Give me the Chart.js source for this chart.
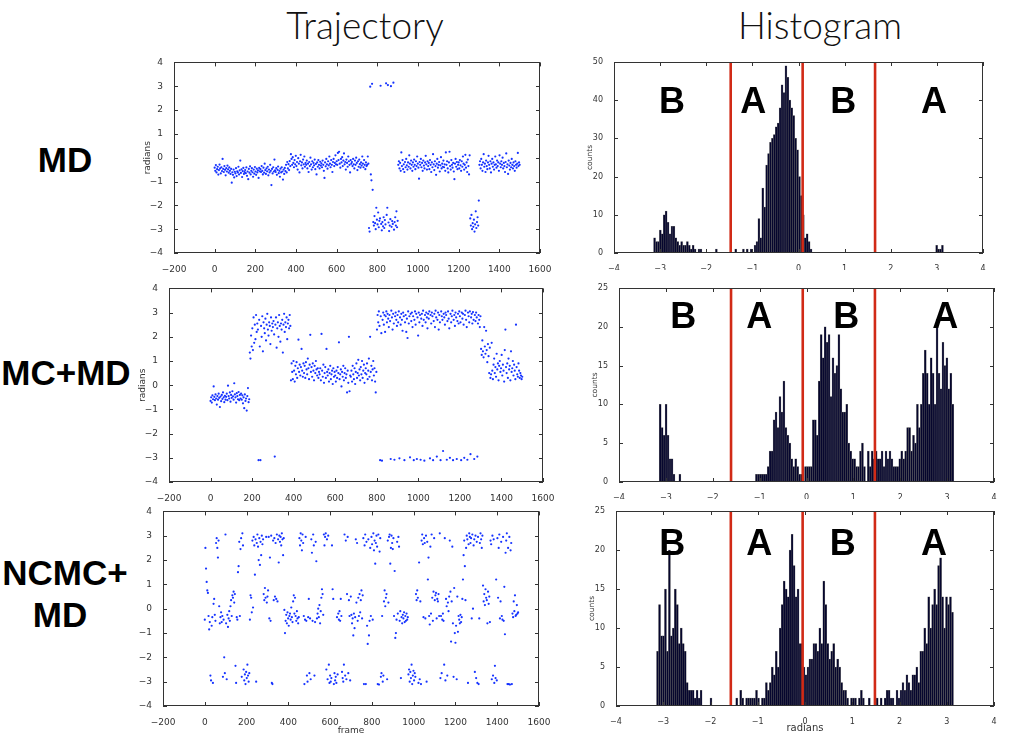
<!DOCTYPE html>
<html>
<head>
<meta charset="utf-8">
<script src="https://cdn.jsdelivr.net/npm/chart.js@4.4.1/dist/chart.umd.min.js"></script>
<style>
    body { margin: 0; width: 1013px; height: 737px; background: #fff; position: relative; overflow: hidden; font-family: "Liberation Sans", Arial, sans-serif; }
    canvas { position: absolute; }
    .head { position: absolute; font-family: Lato, "Open Sans", sans-serif; font-weight: 300; font-size: 37px; line-height: 1; color: #111; white-space: nowrap; transform: translateX(-50%); }
    .row { position: absolute; font-weight: bold; font-size: 35px; line-height: 1; color: #000; white-space: nowrap; transform: translateX(-50%); }
</style>
</head>
<body>
<div class="head" style="left:365px;top:6px">Trajectory</div>
<div class="head" style="left:820px;top:6px">Histogram</div>
<div class="row" style="left:65px;top:142px">MD</div>
<div class="row" style="left:66px;top:355px">MC+MD</div>
<div class="row" style="left:65px;top:555px">NCMC+</div>
<div class="row" style="left:60px;top:597px">MD</div>

<script>
// trajectories: one angle (radians) every frameStep frames, frames 0..1500
const frameStep = 3;

const mdAngles = [
    -0.42,-0.55,-0.31,-0.62,-0.48,-0.38,-0.71,-0.52,-0.29,-0.45,-0.66,-0.4,-0.56,-0.05,-0.47,-0.6,-0.35,-0.51,-0.74,-0.44,-0.58,-0.33,-0.49,-0.63,-0.41,
    -0.55,-0.68,-0.47,-1.05,-0.61,-0.72,-0.5,-0.83,-0.59,-0.66,-0.44,-0.77,-0.57,-0.62,-0.38,-0.7,-0.53,-0.12,-0.64,-0.49,-0.81,-0.56,-0.43,-0.68,-0.6,
    -0.52,-0.65,-0.41,-0.76,-0.58,-0.9,-0.47,-0.63,-0.36,-0.7,-0.55,-0.44,-0.61,-0.8,-0.5,-0.67,-0.39,-0.58,-0.72,-0.46,-0.62,-0.53,-0.85,-0.43,-0.57,
    -0.48,-0.6,-0.35,-0.55,-0.7,-0.42,-0.63,-0.25,-0.52,-0.68,-0.45,-0.57,-0.38,-0.74,-0.5,-0.62,-0.3,-0.55,-1.15,-0.47,-0.66,-0.4,-0.58,-0.08,-0.53,
    -0.6,-0.44,-0.72,-0.51,-0.37,-0.65,-0.55,-0.8,-0.46,-0.62,-0.4,-0.58,-0.92,-0.5,-0.68,-0.43,-0.56,-0.3,-0.62,-0.18,-0.45,-0.27,-0.52,-0.14,-0.35,
    0.15,-0.05,-0.3,0.02,-0.22,-0.4,-0.1,-0.28,0.08,-0.35,-0.18,-0.5,-0.02,-0.25,-0.62,-0.15,0.12,-0.32,-0.2,-0.45,-0.08,-0.28,0.05,-0.38,-0.22,
    -0.3,-0.12,-0.45,-0.25,-0.6,-0.18,-0.35,0.0,-0.28,-0.5,-0.15,-0.4,-0.22,-0.32,-0.08,-0.48,-0.26,-0.7,-0.2,-0.38,-0.1,-0.3,-0.45,-0.17,-0.33,
    -0.24,-0.4,-0.12,-0.3,-0.55,-0.85,-0.2,-0.36,-0.05,-0.28,-0.46,-0.15,-0.32,0.05,-0.25,-0.4,-0.1,-0.3,-0.6,-0.18,-0.05,-0.35,-0.22,0.1,-0.28,
    -0.15,-0.3,0.2,-0.1,0.25,-0.25,-0.42,-0.05,-0.2,0.02,-0.35,-0.12,0.18,-0.28,-0.18,-0.5,-0.08,-0.22,-0.38,0.05,-0.15,-0.3,-0.62,-0.1,-0.25,
    -0.18,-0.35,-0.05,-0.28,-0.45,-0.12,-0.3,0.0,-0.22,-0.52,-0.15,-0.38,-0.08,-0.27,-0.42,-0.2,-0.33,0.05,-0.25,-0.4,-0.1,-0.3,-0.48,-0.2,-0.35,
    -0.3,0.05,-0.25,-2.95,-3.1,2.98,-0.7,-0.95,3.1,-1.35,-2.7,-2.85,-2.45,-2.75,-3.0,-2.1,-2.6,-2.8,-2.3,-2.92,-2.65,-2.55,3.02,-2.78,-3.05,
    -2.7,-2.88,-2.5,-2.95,-2.62,-2.8,3.12,-2.4,-2.1,3.05,-2.72,-3.08,-2.85,-2.58,3.0,-2.9,-2.66,-2.78,3.15,-3.02,-2.7,-2.5,-2.85,-2.25,-2.92,
    -2.65,-0.3,-0.15,-0.45,-0.22,-0.55,0.22,-0.35,-0.1,-0.48,-0.28,-0.6,-0.18,-0.4,-0.05,-0.32,-0.5,-0.2,-0.38,0.1,-0.25,-0.45,-0.12,-0.3,-0.55,
    -0.2,-0.38,-0.08,-0.3,-0.48,-0.15,-0.35,0.05,-0.25,-0.42,-0.88,-0.18,-0.3,-0.05,-0.4,-0.22,-0.55,-0.12,-0.33,-0.45,-0.2,0.08,-0.28,-0.5,-0.15,
    -0.35,-0.22,-0.48,-0.1,-0.3,-0.6,-0.2,-0.4,0.15,-0.28,-0.52,-0.15,-0.35,-0.72,-0.25,-0.05,-0.42,-0.3,-0.18,-0.58,-0.32,0.02,-0.45,-0.25,-0.38,
    -0.12,-0.4,-0.28,-0.55,0.22,-0.3,-0.15,-0.45,-0.62,-0.2,0.25,-0.35,-0.5,-0.1,-0.3,-0.42,-0.22,-0.58,-0.9,-0.25,-0.05,-0.38,-0.18,-0.48,-0.3,
    -0.2,-0.45,-0.1,-0.32,-0.55,-0.15,-0.38,0.05,-0.25,-0.5,-0.3,0.12,-0.42,-0.2,-0.6,-0.08,-0.35,-0.7,0.1,-2.55,-2.85,-2.4,-3.0,-2.75,-2.9,
    -2.6,-3.1,-2.8,-2.25,-2.95,-2.7,-2.5,-2.85,-1.8,-0.3,-0.15,-0.45,-0.05,-0.3,-0.55,-0.2,0.15,-0.38,-0.25,-0.6,-0.12,-0.35,-0.48,-0.2,0.08,
    -0.3,-0.45,-0.15,-0.62,-0.25,-0.05,-0.38,-0.2,-0.5,-0.3,0.05,-0.28,-0.42,-0.12,-0.35,-0.2,-0.55,0.1,-0.25,-0.4,-0.15,-0.3,0.0,-0.45,-0.22,
    -0.35,-0.6,-0.18,0.18,-0.4,-0.28,-0.68,-0.12,-0.33,-0.5,-0.22,-0.4,-0.05,-0.3,-0.45,-0.2,-0.35,-0.55,-0.15,-0.3,-0.42,-0.25,0.2,-0.35,-0.2,
    -0.3
];

const mcmdAngles = [
    -0.65,-0.5,-0.72,-0.42,-0.58,-0.05,-0.48,-0.62,-0.38,-0.55,-0.8,-0.45,-0.6,-0.35,-0.52,-0.9,-0.47,-0.66,-0.4,-0.57,-0.3,-0.5,-0.7,-0.44,-0.6,
    -0.48,-0.35,-0.62,-0.02,-0.45,-0.55,-0.3,-0.68,-0.4,-0.52,-0.25,-0.46,-0.6,0.08,-0.38,-0.5,-0.72,-0.33,-0.45,-0.58,-0.28,-0.62,-0.4,-0.55,-0.35,
    -0.6,-0.42,-0.75,-0.5,-0.95,-0.38,-0.65,-0.55,-1.05,-0.45,-0.12,-0.7,-0.58,1.35,1.1,2.05,1.6,2.35,1.45,2.8,1.75,2.5,1.9,2.9,2.2,
    2.55,2.3,-3.1,2.7,1.6,-3.1,2.45,2.0,2.85,1.4,2.6,2.35,2.15,2.75,1.85,2.5,2.95,2.3,2.05,2.6,2.45,1.7,2.8,2.25,2.55,
    2.4,2.65,2.1,-2.95,2.5,2.8,1.55,2.35,2.6,2.0,2.9,2.45,1.8,2.55,2.3,2.7,1.35,2.5,2.95,2.2,2.6,2.4,2.8,1.9,2.55,
    2.7,2.35,2.9,2.45,0.2,0.9,0.55,0.25,1.0,0.6,0.15,0.8,0.45,0.95,0.3,0.7,1.88,0.55,0.85,0.4,0.75,1.5,0.6,0.35,0.9,
    0.5,0.8,0.3,0.95,0.65,0.45,1.1,0.7,0.25,0.85,2.08,0.55,0.75,0.35,0.9,0.6,0.2,0.8,0.5,1.0,0.65,0.4,0.7,0.3,0.55,
    0.45,0.7,0.2,2.12,0.6,0.35,0.85,0.1,0.5,0.75,0.3,1.5,0.55,0.4,0.65,0.15,0.5,0.8,0.25,0.45,0.6,0.05,0.7,0.35,0.55,
    0.4,0.15,0.6,0.3,0.75,0.5,1.77,0.25,0.45,0.65,-0.05,0.55,0.35,0.8,0.2,0.5,0.7,0.3,0.45,-0.3,0.6,0.1,2.0,-0.25,0.4,
    0.35,0.6,0.15,0.8,0.45,0.25,0.7,0.05,0.55,0.9,0.3,0.5,1.05,0.4,0.65,0.2,0.75,0.45,1.0,0.3,0.6,0.85,0.1,0.5,0.7,
    0.45,0.9,0.25,0.6,1.1,0.35,2.0,0.55,0.8,0.2,0.65,1.0,0.4,0.7,0.15,-0.3,0.55,2.3,2.9,2.6,3.05,2.45,-3.1,2.85,2.15,
    -3.12,2.7,3.0,2.5,2.9,2.2,2.85,3.05,2.6,2.95,2.75,2.4,2.9,2.65,-3.05,3.08,2.8,2.3,2.95,2.55,-3.08,2.85,3.0,2.7,2.45,
    2.9,2.6,3.05,-3.02,2.8,2.5,2.95,2.7,2.25,3.0,2.85,-3.1,2.6,2.9,2.2,2.75,1.95,3.05,2.55,2.85,-2.98,2.95,2.65,3.0,2.4,
    2.85,-3.1,2.7,3.05,2.5,2.95,-3.05,2.8,2.05,3.0,2.6,2.9,-3.08,2.75,2.95,2.45,3.08,2.7,-3.12,2.9,2.6,3.0,2.8,2.35,2.95,
    2.75,3.05,-3.02,2.9,2.55,3.0,2.85,-3.1,2.65,2.95,2.4,3.08,2.8,-2.95,2.7,3.0,2.3,2.9,2.6,-3.1,3.05,2.85,2.7,-2.72,2.95,
    2.8,2.5,3.0,2.9,-3.08,2.65,3.05,2.75,2.35,-3.0,2.95,2.6,2.85,3.08,-3.1,2.7,2.9,2.45,3.0,2.8,-3.05,2.65,2.95,2.55,3.05,
    2.85,2.6,-3.1,3.0,2.75,2.95,2.5,-3.0,2.9,3.08,2.7,2.4,-3.08,3.0,2.85,2.6,3.05,-2.85,2.8,2.95,2.55,3.02,2.7,-3.05,2.9,
    2.65,3.0,2.8,-2.95,2.55,2.9,2.7,2.4,2.85,1.5,1.25,1.85,1.4,1.15,2.4,1.6,1.3,2.25,1.45,0.95,1.7,1.2,0.5,1.55,0.3,
    0.45,1.75,0.6,0.25,0.85,1.1,0.5,0.75,0.35,1.3,0.65,0.9,0.2,0.8,1.0,0.55,0.7,1.25,0.4,0.85,0.6,0.15,1.45,2.3,0.75,
    0.5,0.9,0.3,1.1,0.65,0.8,0.2,1.4,0.55,0.7,1.0,0.4,0.85,0.6,0.25,2.5,0.75,0.45,0.35,0.9,0.6,0.3,0.5,0.4,0.25,
    0.35
];

const ncmcAngles = [
    -0.45,2.5,1.65,1.1,0.75,0.65,-0.3,-0.85,-0.55,-2.75,-2.95,-0.7,-0.35,-3.05,0.2,0.4,-0.25,-0.5,2.7,2.9,2.5,2.1,2.8,0.1,-0.6,
    -0.35,-0.15,-0.55,-0.3,-2.8,-0.45,-2.0,-2.65,3.05,-0.6,-2.9,-0.25,-0.75,-0.4,-0.1,-0.5,0.1,0.35,-0.3,0.55,0.45,0.7,0.25,0.6,-2.35,
    -3.05,-0.35,-0.45,1.5,1.75,2.75,-0.3,2.45,2.9,-2.8,3.1,2.6,-2.5,-2.95,-2.7,-3.1,-2.6,-2.85,-2.3,-2.75,-3.0,-2.65,-0.45,0.55,0.45,
    -0.15,2.8,0.05,2.95,2.6,1.4,2.85,-3.0,2.7,3.05,2.55,2.0,2.9,1.8,2.75,2.2,3.0,2.65,2.85,0.6,0.35,0.85,0.45,2.95,0.25,
    0.5,0.75,2.95,-0.4,2.1,-0.5,3.0,-3.05,-3.1,2.8,0.35,2.9,0.5,2.7,0.4,3.05,0.3,2.85,1.9,3.0,2.75,2.95,2.6,3.1,2.85,
    2.2,2.9,-0.05,-1.0,-0.5,-0.25,-0.6,-0.15,-0.4,-0.7,-0.3,-0.2,-0.45,0.05,-0.35,-0.55,0.3,0.55,-0.2,0.45,-0.3,-0.5,-0.1,-0.4,-0.6,
    -0.35,2.9,2.6,3.1,2.8,2.4,3.05,2.7,-0.3,-3.1,-0.45,2.95,-0.5,-2.75,-3.0,-0.35,0.4,-2.65,-0.4,-2.9,2.85,2.3,-0.5,3.05,2.6,
    -2.75,-0.55,2.75,1.95,-0.4,-0.2,0.0,-0.35,0.15,-0.6,-0.1,0.45,0.8,0.6,-0.25,3.05,2.6,2.95,3.1,-2.5,2.85,-2.9,3.0,-2.3,-3.05,
    -2.75,-3.0,-2.85,2.6,0.8,0.4,-3.1,-2.65,-2.95,-2.8,-3.05,-0.35,-2.7,-0.2,-0.45,-0.1,-0.5,0.4,-0.3,-2.6,-2.85,-3.0,-2.3,3.05,-2.75,
    2.8,-2.9,0.6,2.95,-2.65,0.35,-0.3,-2.95,0.5,-0.25,-0.6,-0.4,-1.1,-0.2,-0.8,-0.35,2.85,0.25,2.7,-0.5,0.45,-0.3,0.6,-0.15,0.35,
    0.75,-0.4,0.55,2.9,-3.1,2.6,3.05,-3.1,2.75,-0.7,-1.45,2.85,-1.1,-0.5,2.5,-0.3,2.95,2.65,-0.45,3.1,2.4,2.8,1.85,2.7,3.0,
    2.55,-3.1,3.05,-3.12,2.35,2.9,-2.8,-2.65,-0.3,-3.0,-2.75,0.3,0.75,0.1,0.45,0.6,-2.9,2.8,0.25,2.95,3.05,1.85,2.5,3.0,2.7,
    2.45,2.9,-0.3,1.55,-1.2,-1.0,-0.45,2.75,-0.2,2.95,2.55,-0.5,-0.1,-2.85,-0.35,-0.6,-0.25,-0.4,-0.15,-0.55,-0.3,-0.5,-0.2,-0.45,-0.35,
    -2.7,-2.5,-3.0,-2.6,-2.85,-2.3,-3.1,-2.75,-2.55,-2.95,-2.65,-2.8,0.6,0.35,0.75,0.45,-3.05,1.9,-2.9,0.3,-3.1,2.8,3.05,2.65,-0.35,
    2.9,2.7,-0.4,3.0,-3.0,2.75,1.2,2.1,-0.3,-0.65,2.55,-0.2,3.05,0.45,-0.5,0.7,2.9,0.35,0.55,0.65,-0.4,0.4,0.3,0.6,-0.3,
    3.1,-2.85,-0.3,-2.65,-0.45,-0.2,-0.5,-2.3,2.9,-2.95,0.4,0.1,-2.75,0.25,-0.1,0.5,2.8,0.7,-1.35,0.3,2.55,-0.6,-2.8,0.85,-1.0,
    -1.4,-0.7,-2.9,0.5,-0.95,-0.3,-0.45,-0.6,-0.25,-0.55,-0.35,0.4,1.2,2.2,2.8,1.75,0.35,2.5,3.0,2.85,-3.05,2.65,3.1,2.95,2.7,
    2.9,-0.4,3.05,0.0,2.6,2.85,-2.6,3.0,-2.85,2.75,-3.05,2.95,-3.1,-0.4,2.7,3.1,2.85,2.5,3.0,0.95,0.3,0.6,0.15,0.8,0.45,
    0.35,-0.6,0.7,0.2,0.5,-0.55,2.8,2.65,-2.9,3.0,-2.75,2.85,-3.05,-2.35,-2.85,1.2,-2.95,2.9,0.45,2.5,3.05,-0.4,0.3,2.75,-0.3,
    -0.45,2.95,-0.5,0.9,-1.05,2.3,2.8,3.1,-3.1,2.5,-3.1,2.95,-3.12,2.4,2.7,-3.1,-0.2,-0.35,0.3,-0.1,0.55,-0.3,-0.25,0.15,-0.2,
    -0.15
];

// histograms: 150 equal bins over histRange
const histRange = [-3.1416, 3.1416];
const histBins = 150;

const mdCounts = [
    4,3,3,6,5,10,11,8,5,7,  7,4,3,2,3,2,2,3,2,1,  2,1,0,1,1,0,0,0,0,0,
    0,0,1,0,0,0,0,0,0,0,  0,0,1,0,0,0,1,0,1,0,  1,0,2,3,9,4,17,12,23,26,
    29,30,31,33,34,38,44,42,49,46,  40,38,36,30,27,20,15,10,4,5,  3,1,0,0,0,0,0,0,0,0,
    0,0,0,0,0,0,0,0,0,0,  0,0,0,0,0,0,0,0,0,0,  0,0,0,0,0,0,0,0,0,0,
    0,0,0,0,0,0,0,0,0,0,  0,0,0,0,0,0,0,0,0,0,  0,0,0,0,0,0,2,1,1,2
];

const mcmdCounts = [
    10,7,6,10,6,3,3,1,0,0,  1,0,0,0,0,0,0,0,0,0,  0,0,0,0,0,0,0,0,0,0,
    0,0,0,0,0,0,0,0,0,0,  0,0,0,0,0,0,0,0,0,1,  1,1,1,1,1,2,4,4,8,9,
    7,11,9,13,7,6,5,3,2,3,  2,1,1,0,2,2,2,2,8,8,  6,13,19,16,20,18,19,11,16,14,
    15,19,12,9,9,10,5,4,3,3,  2,2,4,5,2,0,4,2,4,3,  4,3,3,4,2,4,3,4,3,2,
    2,2,3,4,3,4,7,7,4,6,  5,10,7,10,14,17,14,10,16,14,  10,21,14,12,18,15,16,12,14,10
];

const ncmcCounts = [
    7,13,9,9,15,7,20,9,10,15,  13,8,10,8,7,3,2,2,2,1,  2,1,2,0,0,0,0,1,0,0,
    0,0,0,0,0,0,0,0,0,0,  1,0,2,1,0,1,1,1,1,1,  2,1,0,1,1,3,2,3,5,4,
    7,5,10,13,16,15,14,20,22,18,  14,15,8,8,5,4,5,6,6,8,  8,7,10,8,16,13,8,6,7,8,
    5,6,5,3,2,2,1,0,1,1,  1,0,1,2,1,0,0,1,0,0,  1,1,0,1,0,1,2,2,1,1,
    0,2,1,2,3,2,4,3,2,4,  4,5,3,7,7,10,8,14,10,13,  15,13,18,19,14,10,14,13,14,12
];

// red state boundaries (radians) and the state letters between them
const mdDividers = [-1.47, 0.09, 1.66];
const mcmdDividers = [-1.61, -0.08, 1.46];
const ncmcDividers = [-1.57, -0.05, 1.48];
const stateLetters = ['B', 'A', 'B', 'A'];

const minus = v => (v < 0 ? '\u2212' + Math.abs(v) : String(v));

// matplotlib-style frame with inward ticks
const framePlugin = {
    id: 'mplFrame',
    afterDraw(chart) {
        const { ctx, chartArea: a, scales: { x, y } } = chart;
        ctx.save();
        ctx.strokeStyle = '#333';
        ctx.lineWidth = 1;
        ctx.beginPath();
        x.ticks.forEach(t => {
            const p = Math.round(x.getPixelForValue(t.value)) + 0.5;
            ctx.moveTo(p, a.bottom); ctx.lineTo(p, a.bottom - 4);
            ctx.moveTo(p, a.top); ctx.lineTo(p, a.top + 4);
        });
        y.ticks.forEach(t => {
            const p = Math.round(y.getPixelForValue(t.value)) + 0.5;
            ctx.moveTo(a.left, p); ctx.lineTo(a.left + 4, p);
            ctx.moveTo(a.right, p); ctx.lineTo(a.right - 4, p);
        });
        ctx.stroke();
        ctx.strokeRect(Math.round(a.left) + 0.5, Math.round(a.top) + 0.5, Math.round(a.width) - 1, Math.round(a.height) - 1);
        ctx.restore();
    }
};

// red dividers and big B/A letters on the histograms
const statePlugin = {
    id: 'states',
    afterDatasetsDraw(chart, args, opts) {
        if (!opts || !opts.dividers) return;
        const { ctx, chartArea: a, scales: { x, y } } = chart;
        ctx.save();
        ctx.strokeStyle = '#d12a16';
        ctx.lineWidth = 2.6;
        opts.dividers.forEach(d => {
            const p = x.getPixelForValue(d);
            ctx.beginPath(); ctx.moveTo(p, a.top); ctx.lineTo(p, a.bottom); ctx.stroke();
        });
        ctx.fillStyle = '#000';
        ctx.font = 'bold 36px "Liberation Sans", Arial, sans-serif';
        ctx.textAlign = 'center';
        ctx.textBaseline = 'alphabetic';
        opts.letters.forEach((s, i) => {
            ctx.fillText(s, x.getPixelForValue(opts.letterX[i]), y.getPixelForValue(opts.letterY) + 13);
        });
        ctx.restore();
    }
};

function makeCanvas(box) {
    const c = document.createElement('canvas');
    c.width = box.w; c.height = box.h;
    c.style.left = box.left + 'px'; c.style.top = box.top + 'px';
    c.style.width = box.w + 'px'; c.style.height = box.h + 'px';
    document.body.appendChild(c);
    return c;
}

function axis(min, max, step, fontSize, fixed, title, titleSize) {
    return {
        type: 'linear', min: min, max: max, offset: false,
        grid: { display: false }, border: { display: false },
        ticks: { stepSize: step, autoSkip: false, maxRotation: 0, padding: 3, color: '#333',
                 font: { family: 'DejaVu Sans', size: fontSize }, callback: minus },
        title: { display: !!title, text: title || '', color: '#333', padding: { top: 2, bottom: 2 },
                 font: { family: 'DejaVu Sans', size: titleSize || fontSize } },
        afterFit: s => { if (s.isHorizontal()) s.height = fixed; else s.width = fixed; }
    };
}

function trajectoryChart(box, angles, yTitle, xTitle) {
    const pts = angles.map((v, i) => ({ x: i * frameStep, y: v }));
    return new Chart(makeCanvas(box), {
        type: 'scatter',
        data: { datasets: [{ data: pts, pointRadius: 1.1, pointBorderWidth: 0,
                             backgroundColor: 'rgba(10,40,255,0.95)' }] },
        options: {
            responsive: false, animation: false, events: [],
            layout: { padding: { top: 8, right: 16, left: 0, bottom: 0 } },
            plugins: { legend: { display: false }, tooltip: { enabled: false } },
            scales: {
                x: axis(-200, 1600, 200, 9, box.xh, xTitle, 9),
                y: axis(-4, 4, 1, 9, 34, yTitle, 9)
            }
        },
        plugins: [framePlugin]
    });
}

function histogramChart(box, counts, yMax, yStep, dividers, letterX, letterY, xTitle) {
    const w = (histRange[1] - histRange[0]) / histBins;
    const bars = counts.map((c, i) => ({ x: histRange[0] + (i + 0.5) * w, y: c }));
    return new Chart(makeCanvas(box), {
        type: 'bar',
        data: { datasets: [{ data: bars, backgroundColor: '#06062e', borderColor: 'rgba(90,90,90,0.9)',
                             borderWidth: 0.5, barPercentage: 1, categoryPercentage: 1 }] },
        options: {
            responsive: false, animation: false, events: [],
            layout: { padding: { top: 8, right: 16, left: 0, bottom: 0 } },
            plugins: { legend: { display: false }, tooltip: { enabled: false },
                       states: { dividers: dividers, letters: stateLetters, letterX: letterX, letterY: letterY } },
            scales: {
                x: axis(-4, 4, 1, 8, box.xh, xTitle, 10),
                y: axis(0, yMax, yStep, 8, 30, 'counts', 7.5)
            }
        },
        plugins: [framePlugin, statePlugin]
    });
}

// canvas boxes: chart area = (left + y-axis width, top + 8) ... (left + w - 16, top + h - xh)
trajectoryChart({ left: 140, top: 54, w: 416, h: 219, xh: 20 }, mdAngles, 'radians');
trajectoryChart({ left: 135, top: 280, w: 424, h: 222, xh: 20 }, mcmdAngles, 'radians');
trajectoryChart({ left: 129, top: 503, w: 426, h: 235, xh: 32 }, ncmcAngles, '', 'frame');

histogramChart({ left: 584, top: 54, w: 415, h: 216, xh: 17 }, mdCounts, 50, 10,
               mdDividers, [-2.74, -0.98, 0.97, 2.94], 40);
histogramChart({ left: 589, top: 280, w: 421, h: 219, xh: 17 }, mcmdCounts, 25, 5,
               mcmdDividers, [-2.63, -1.01, 0.85, 2.96], 21.5);
histogramChart({ left: 586, top: 503, w: 424, h: 233, xh: 30 }, ncmcCounts, 25, 5,
               ncmcDividers, [-2.81, -0.97, 0.80, 2.73], 21.0, 'radians');
</script>
</body>
</html>
